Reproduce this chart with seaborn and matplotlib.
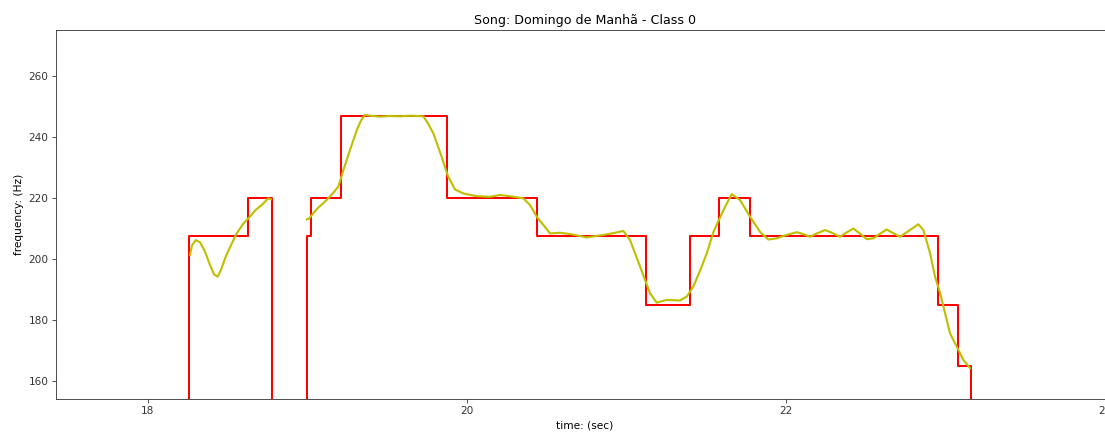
import numpy as np
import pandas as pd
import matplotlib
matplotlib.use("Agg")
import matplotlib.pyplot as plt
import seaborn as sns

# Transcribed notes: onset time (s) and pitch (Hz); 0 marks a rest
note_onsets = [17.40, 18.257, 18.627, 18.777, 18.997, 19.022, 19.210, 19.875,
               20.439, 21.122, 21.398, 21.580, 21.774, 22.953, 23.078, 23.160]
note_pitches = [0.0, 207.65, 220.00, 0.0, 207.65, 220.00, 246.94, 220.00,
                207.65, 185.00, 207.65, 220.00, 207.65, 185.00, 164.81, 0.0]

# Estimated pitch contour, first voiced segment
f0_time_a = [18.263, 18.276, 18.299, 18.326, 18.357, 18.389, 18.414, 18.437,
             18.458, 18.489, 18.520, 18.556, 18.596, 18.639, 18.677, 18.715,
             18.754, 18.771]
f0_freq_a = [201.3, 204.5, 206.2, 205.5, 202.5, 198.0, 195.0, 194.2,
             196.5, 201.0, 204.5, 208.4, 211.5, 213.9, 216.2, 217.8,
             219.9, 219.6]

# Estimated pitch contour, second voiced segment
f0_time_b = [18.995, 19.009, 19.036, 19.066, 19.099, 19.141, 19.193, 19.224,
             19.266, 19.309, 19.336, 19.361, 19.392, 19.455, 19.517, 19.580,
             19.643, 19.693, 19.726, 19.755, 19.789, 19.841, 19.882, 19.925,
             19.977, 20.061, 20.144, 20.207, 20.282, 20.353, 20.395, 20.437,
             20.489, 20.520, 20.583, 20.646, 20.750, 20.855, 20.928, 20.980,
             21.022, 21.085, 21.147, 21.189, 21.252, 21.335, 21.378, 21.419,
             21.471, 21.503, 21.545, 21.607, 21.659, 21.712, 21.774, 21.837,
             21.889, 21.942, 22.004, 22.067, 22.107, 22.150, 22.194, 22.245,
             22.288, 22.339, 22.376, 22.422, 22.464, 22.506, 22.547, 22.589,
             22.631, 22.671, 22.715, 22.777, 22.829, 22.861, 22.903, 22.934,
             22.966, 22.997, 23.028, 23.070, 23.112, 23.154]
f0_freq_b = [213.0, 213.2, 215.0, 216.8, 218.3, 220.5, 223.7, 229.0,
             235.7, 242.3, 245.5, 247.3, 247.0, 246.7, 246.9, 246.8,
             247.0, 246.9, 246.8, 244.5, 241.2, 233.5, 227.0, 222.8,
             221.5, 220.6, 220.4, 221.0, 220.5, 219.9, 217.7, 213.9,
             210.5, 208.4, 208.6, 208.2, 207.1, 207.9, 208.6, 209.2,
             206.2, 197.5, 188.8, 185.7, 186.6, 186.4, 187.7, 191.0,
             197.5, 201.9, 208.9, 216.0, 221.3, 219.3, 213.9, 208.9,
             206.4, 206.8, 207.9, 208.8, 208.2, 207.3, 208.4, 209.5,
             208.6, 207.3, 208.6, 210.0, 208.3, 206.5, 206.8, 208.3,
             209.7, 208.5, 207.3, 209.5, 211.4, 209.5, 201.9, 194.2,
             188.8, 182.2, 175.6, 171.3, 166.9, 164.2]

notes = pd.DataFrame({"time": note_onsets, "freq": note_pitches})
contour = pd.DataFrame({
    "time": f0_time_a + f0_time_b,
    "freq": f0_freq_a + f0_freq_b,
    "segment": [0] * len(f0_time_a) + [1] * len(f0_time_b),
})

DPI = 76
fig = plt.figure(figsize=(1105 / DPI, 433 / DPI), dpi=DPI)
ax = fig.add_axes([0.0507, 0.0785, 0.9566, 0.8522])

sns.lineplot(data=notes, x="time", y="freq", ax=ax, color="red",
             linewidth=1.9, drawstyle="steps-post", sort=False,
             estimator=None)
sns.lineplot(data=contour, x="time", y="freq", units="segment", ax=ax,
             color="y", linewidth=2.0, sort=False, estimator=None)

ax.set_xlim(17.4235, 24.05)
ax.set_ylim(154.1, 275.1)
ax.set_xticks([18, 20, 22, 24])
ax.set_yticks([160, 180, 200, 220, 240, 260])
ax.tick_params(labelsize=10, colors="#333333")
ax.set_xlabel("time: (sec)", fontsize=10)
ax.set_ylabel("frequency: (Hz)", fontsize=10)
ax.set_title("Song: Domingo de Manhã - Class 0", fontsize=12)
for sp in ax.spines.values():
    sp.set_color("#333333")

fig.savefig("out.png", dpi=DPI)
